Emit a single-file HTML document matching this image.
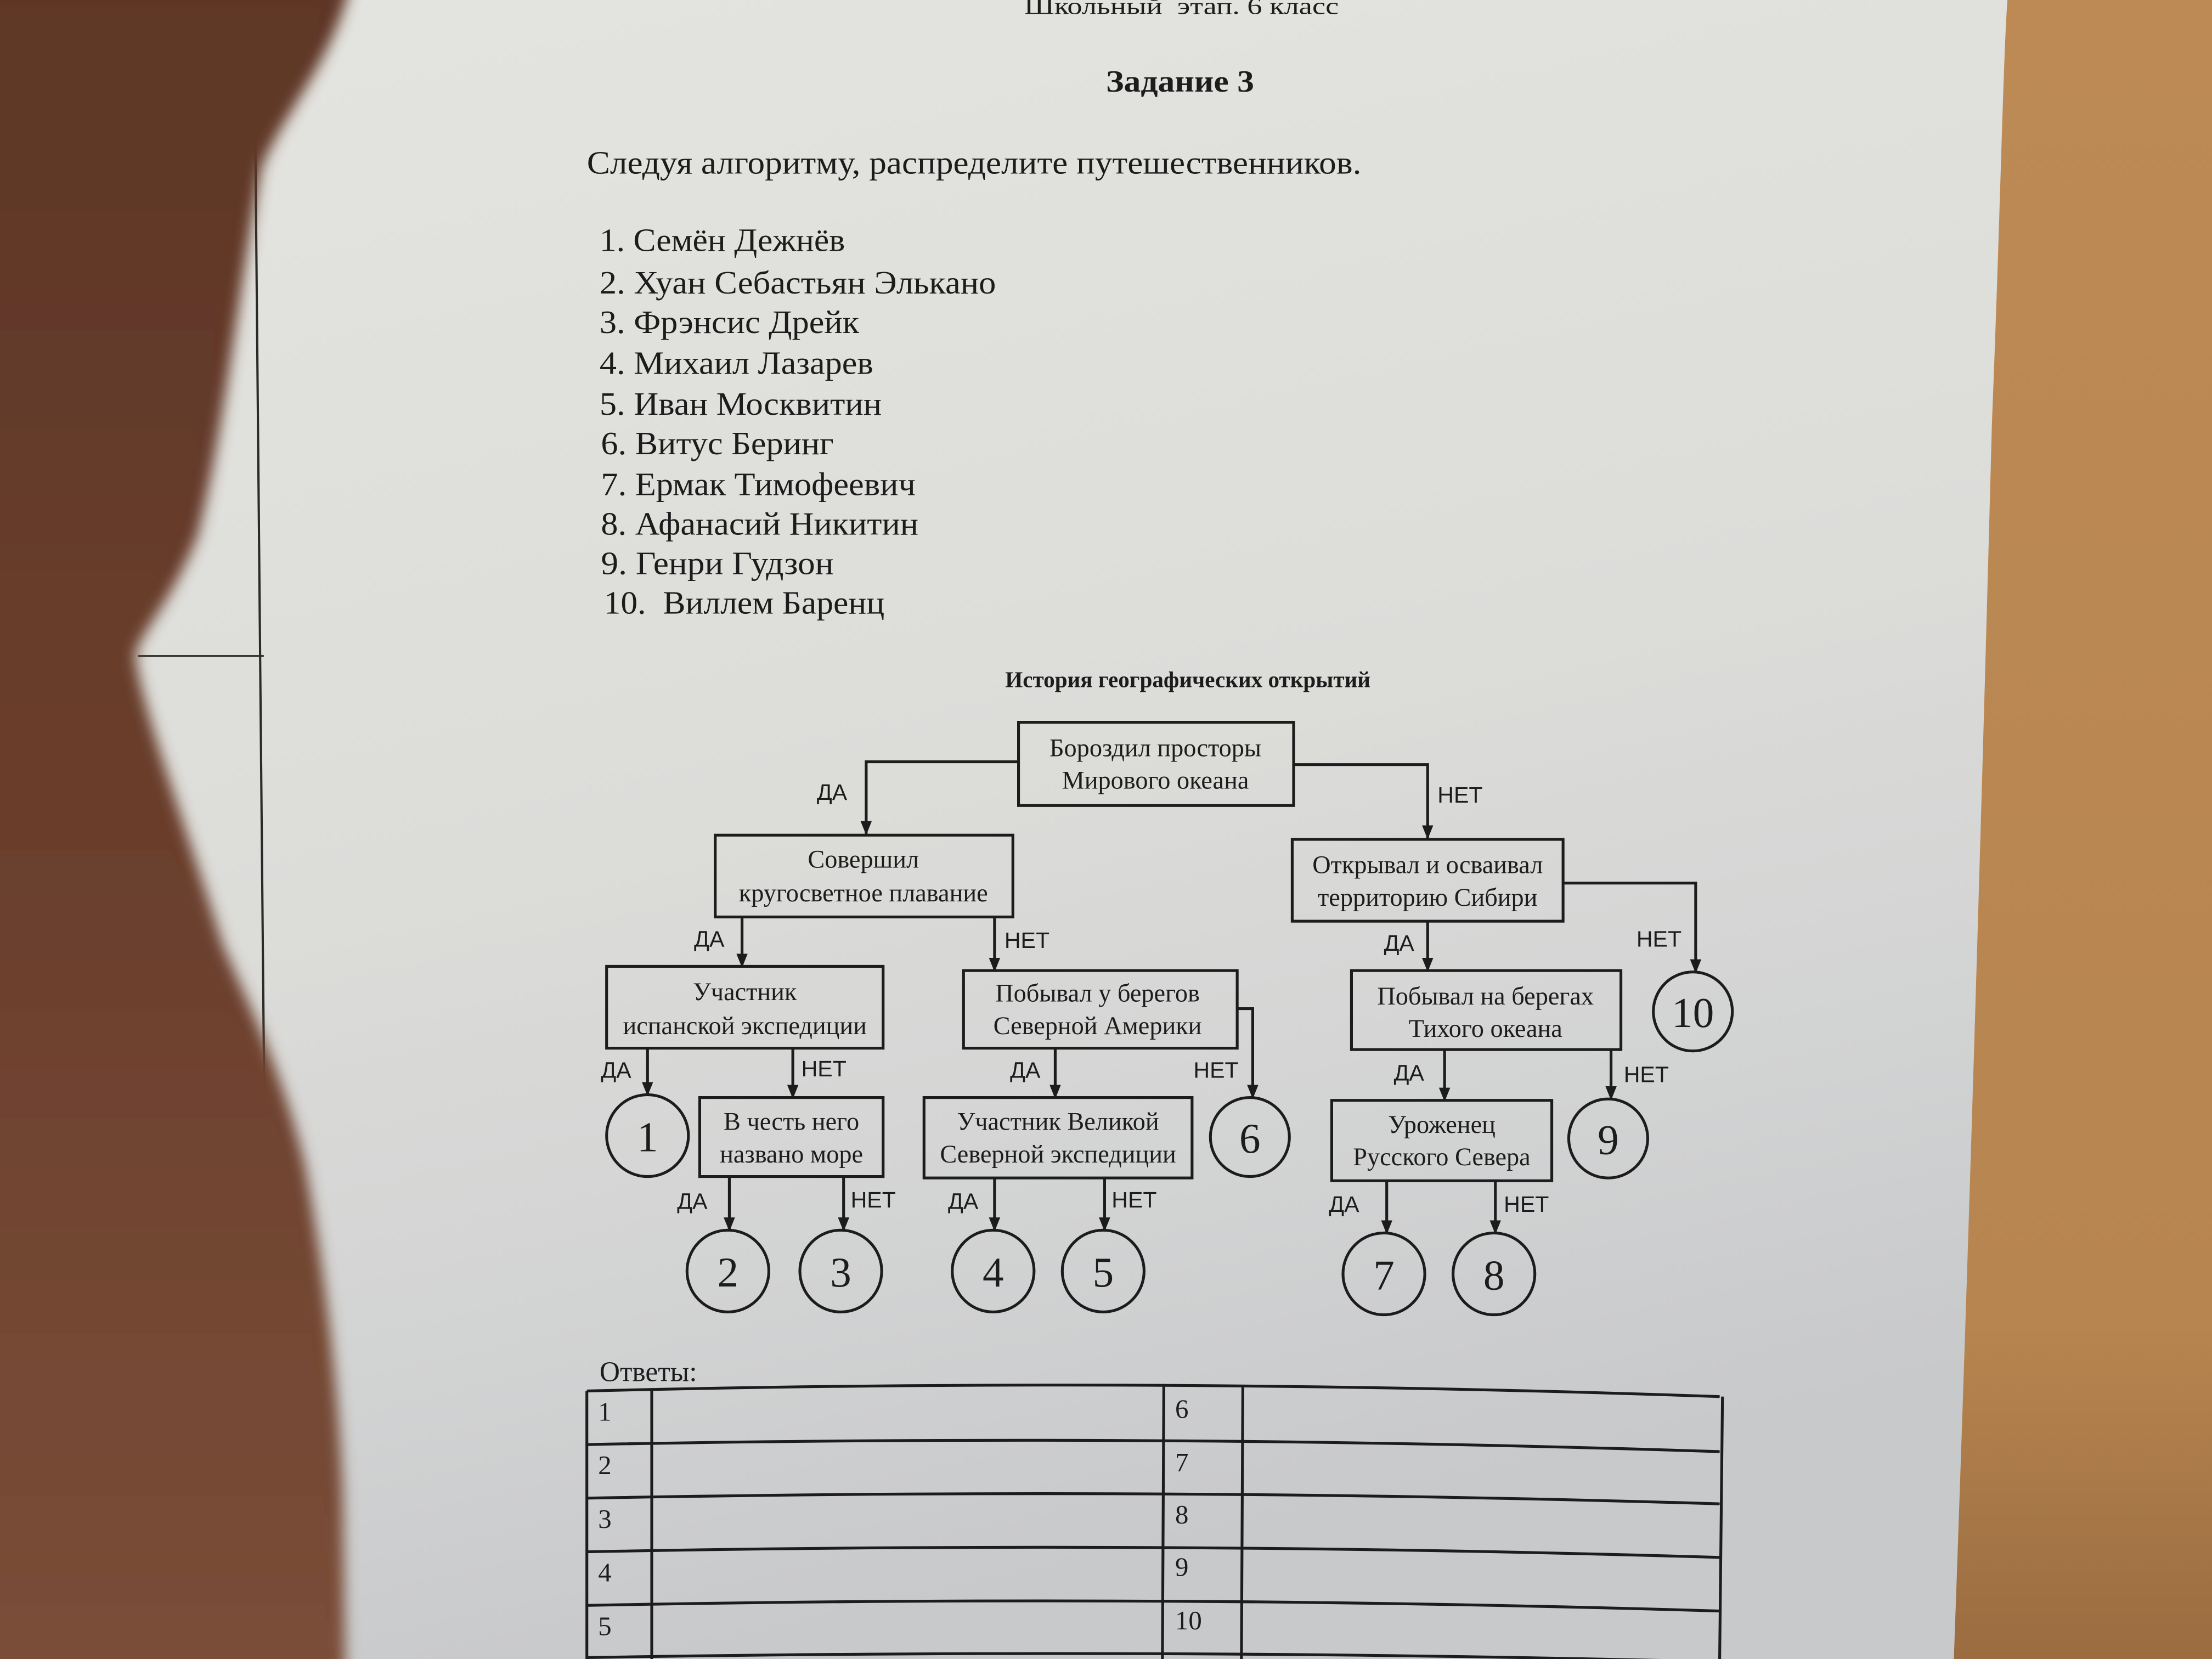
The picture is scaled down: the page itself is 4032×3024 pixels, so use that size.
<!DOCTYPE html>
<html><head><meta charset="utf-8"><style>
html,body{margin:0;padding:0;width:4032px;height:3024px;overflow:hidden;background:#dcdcd9}
svg{display:block}
text{font-family:"Liberation Serif","Noto Serif CJK SC",serif;fill:#1c1c1c}
.s{font-family:"Liberation Sans",sans-serif}
</style></head><body>
<svg width="4032" height="3024" viewBox="0 0 1568 1176" xmlns="http://www.w3.org/2000/svg">
<defs>
<linearGradient id="pg" x1="0" y1="0" x2="0.3" y2="1">
<stop offset="0" stop-color="#e4e4e0"/><stop offset="0.55" stop-color="#dcdcd9"/><stop offset="0.8" stop-color="#d2d3d3"/><stop offset="1" stop-color="#c8c9cb"/></linearGradient>
<linearGradient id="th" x1="0" y1="0" x2="0" y2="1">
<stop offset="0" stop-color="#5e3626"/><stop offset="0.5" stop-color="#6a3e2c"/><stop offset="1" stop-color="#7a4e38"/></linearGradient>
<linearGradient id="wd" x1="0" y1="0" x2="0" y2="1">
<stop offset="0" stop-color="#bd8a55"/><stop offset="0.8" stop-color="#b7854f"/><stop offset="1" stop-color="#9a6c40"/></linearGradient>
<filter id="bl"><feGaussianBlur stdDeviation="5"/></filter>
<marker id="ar" markerWidth="10" markerHeight="8" refX="9" refY="4" orient="auto" markerUnits="userSpaceOnUse">
<path d="M0,0 L10,4 L0,8 Z" fill="#1c1c1c"/></marker>
</defs>
<rect width="1568" height="1176" fill="url(#pg)"/>
<path d="M1423,0 L1568,0 L1568,1176 L1385,1176 C1395,900 1404,600 1412,300 C1418,150 1420,40 1423,0 Z" fill="url(#wd)"/>
<line x1="181" y1="100" x2="191" y2="1176" stroke="#2a2a2a" stroke-width="1.6"/>
<line x1="98" y1="465" x2="187" y2="465" stroke="#2a2a2a" stroke-width="1.2"/>
<path d="M-20,-20 L250,-20 C240,40 200,80 185,120 C170,200 160,300 140,380 C120,430 98,450 96,465 C100,500 130,580 158,670 C180,720 200,760 216,825 C230,900 240,980 243,1060 L245,1200 L-20,1200 Z" fill="url(#th)" filter="url(#bl)"/>

<text x="726" y="10" font-size="17" textLength="223" lengthAdjust="spacingAndGlyphs" xml:space="preserve">Школьный  этап. 6 класс</text>
<text x="784" y="65" font-size="22" font-weight="bold" textLength="105" lengthAdjust="spacingAndGlyphs">Задание 3</text>
<text x="416" y="123" font-size="23" textLength="549" lengthAdjust="spacingAndGlyphs">Следуя алгоритму, распределите путешественников.</text>
<g font-size="23">
<text x="425" y="178" textLength="174" lengthAdjust="spacingAndGlyphs">1. Семён Дежнёв</text>
<text x="425" y="208" textLength="281" lengthAdjust="spacingAndGlyphs">2. Хуан Себастьян Элькано</text>
<text x="425" y="236" textLength="184" lengthAdjust="spacingAndGlyphs">3. Фрэнсис Дрейк</text>
<text x="425" y="265" textLength="194" lengthAdjust="spacingAndGlyphs">4. Михаил Лазарев</text>
<text x="425" y="294" textLength="200" lengthAdjust="spacingAndGlyphs">5. Иван Москвитин</text>
<text x="426" y="322" textLength="165" lengthAdjust="spacingAndGlyphs">6. Витус Беринг</text>
<text x="426" y="351" textLength="223" lengthAdjust="spacingAndGlyphs">7. Ермак Тимофеевич</text>
<text x="426" y="379" textLength="225" lengthAdjust="spacingAndGlyphs">8. Афанасий Никитин</text>
<text x="426" y="407" textLength="165" lengthAdjust="spacingAndGlyphs">9. Генри Гудзон</text>
<text x="428" y="435" textLength="199" lengthAdjust="spacingAndGlyphs" xml:space="preserve">10.  Виллем Баренц</text>
</g>
<text x="842" y="487" font-size="16" font-weight="bold" text-anchor="middle">История географических открытий</text>

<g fill="none" stroke="#1c1c1c" stroke-width="2">
<rect x="722" y="512" width="195" height="59"/>
<rect x="507" y="592" width="211" height="58"/>
<rect x="916" y="595" width="192" height="58"/>
<rect x="430" y="685" width="196" height="58"/>
<rect x="683" y="688" width="194" height="55"/>
<rect x="958" y="688" width="191" height="56"/>
<rect x="496" y="778" width="130" height="56"/>
<rect x="655" y="778" width="190" height="57"/>
<rect x="944" y="780" width="156" height="57"/>
<circle cx="1200" cy="717" r="28"/>
<circle cx="886" cy="806" r="28"/>
<circle cx="1140" cy="807" r="28"/>
<circle cx="459" cy="805" r="29"/>
<circle cx="516" cy="901" r="29"/>
<circle cx="596" cy="901" r="29"/>
<circle cx="704" cy="901" r="29"/>
<circle cx="782" cy="901" r="29"/>
<circle cx="981" cy="903" r="29"/>
<circle cx="1059" cy="903" r="29"/>
</g>
<g fill="none" stroke="#1c1c1c" stroke-width="2" marker-end="url(#ar)">
<path d="M722,540 H614 V591"/>
<path d="M917,542 H1012 V594"/>
<path d="M1108,626 H1202 V689"/>
<path d="M526,650 V685"/>
<path d="M705,650 V688"/>
<path d="M1012,653 V688"/>
<path d="M877,715 H888 V778"/>
<path d="M459,743 V776"/>
<path d="M562,743 V778"/>
<path d="M748,743 V778"/>
<path d="M1024,744 V780"/>
<path d="M1142,744 V779"/>
<path d="M517,834 V872"/>
<path d="M598,834 V872"/>
<path d="M705,835 V872"/>
<path d="M783,835 V872"/>
<path d="M983,837 V874"/>
<path d="M1060,837 V874"/>
</g>
<g font-size="18" text-anchor="middle">
<text x="819" y="536">Бороздил просторы</text><text x="819" y="559">Мирового океана</text>
<text x="612" y="615">Совершил</text><text x="612" y="639">кругосветное плавание</text>
<text x="1012" y="619">Открывал и осваивал</text><text x="1012" y="642">территорию Сибири</text>
<text x="528" y="709">Участник</text><text x="528" y="733">испанской экспедиции</text>
<text x="778" y="710">Побывал у берегов</text><text x="778" y="733">Северной Америки</text>
<text x="1053" y="712">Побывал на берегах</text><text x="1053" y="735">Тихого океана</text>
<text x="561" y="801">В честь него</text><text x="561" y="824">названо море</text>
<text x="750" y="801">Участник Великой</text><text x="750" y="824">Северной экспедиции</text>
<text x="1022" y="803">Уроженец</text><text x="1022" y="826">Русского Севера</text>
</g>
<g font-size="30" text-anchor="middle">
<text x="1200" y="728">10</text><text x="886" y="817">6</text><text x="1140" y="818">9</text>
<text x="459" y="816">1</text><text x="516" y="912">2</text><text x="596" y="912">3</text>
<text x="704" y="912">4</text><text x="782" y="912">5</text><text x="981" y="914">7</text><text x="1059" y="914">8</text>
</g>
<g font-size="16">
<text class="s" x="579" y="567">ДА</text>
<text class="s" x="1019" y="569">НЕТ</text>
<text class="s" x="492" y="671">ДА</text>
<text class="s" x="712" y="672">НЕТ</text>
<text class="s" x="981" y="674">ДА</text>
<text class="s" x="1160" y="671">НЕТ</text>
<text class="s" x="426" y="764">ДА</text>
<text class="s" x="568" y="763">НЕТ</text>
<text class="s" x="716" y="764">ДА</text>
<text class="s" x="846" y="764">НЕТ</text>
<text class="s" x="988" y="766">ДА</text>
<text class="s" x="1151" y="767">НЕТ</text>
<text class="s" x="480" y="857">ДА</text>
<text class="s" x="603" y="856">НЕТ</text>
<text class="s" x="672" y="857">ДА</text>
<text class="s" x="788" y="856">НЕТ</text>
<text class="s" x="942" y="859">ДА</text>
<text class="s" x="1066" y="859">НЕТ</text>
</g>

<text x="425" y="979" font-size="20">Ответы:</text>
<g stroke="#1c1c1c" stroke-width="2" fill="none">
<path d="M416,986 Q820,976 1219,990"/>
<path d="M416,1024 Q820,1016 1219,1029"/>
<path d="M416,1062 Q820,1054 1219,1066"/>
<path d="M416,1100 Q820,1092 1219,1104"/>
<path d="M416,1138 Q820,1130 1219,1142"/>
<path d="M416,1175 Q820,1168 1219,1178"/>
<line x1="416" y1="986" x2="416" y2="1176"/>
<line x1="462" y1="984" x2="462" y2="1176"/>
<line x1="825" y1="981" x2="824" y2="1176"/>
<line x1="881" y1="982" x2="880" y2="1176"/>
<line x1="1221" y1="990" x2="1219" y2="1176"/>
</g>
<g font-size="19">
<text x="424" y="1007">1</text><text x="424" y="1045">2</text><text x="424" y="1083">3</text><text x="424" y="1121">4</text><text x="424" y="1159">5</text>
<text x="833" y="1005">6</text><text x="833" y="1043">7</text><text x="833" y="1080">8</text><text x="833" y="1117">9</text><text x="833" y="1155">10</text>
</g>
</svg>
</body></html>
